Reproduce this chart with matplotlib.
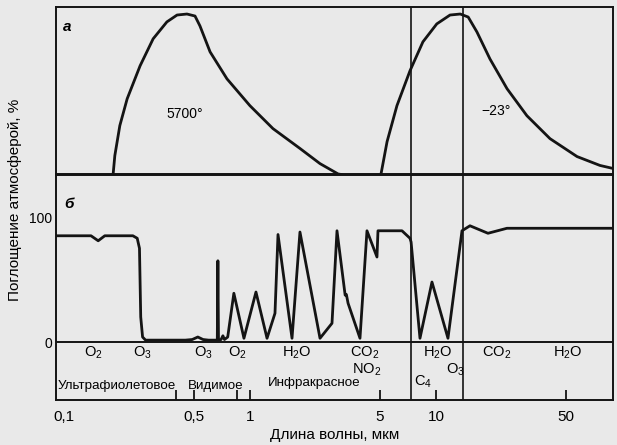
import matplotlib.pyplot as plt

plt.rcParams['font.family'] = ['Liberation Sans', 'DejaVu Sans']
plt.rcParams['mathtext.fontset'] = 'custom'
plt.rcParams['mathtext.rm'] = 'Liberation Sans'
plt.rcParams['mathtext.it'] = 'Liberation Sans:italic'

## a: emission curves (relative, %), wavelength in mkm
sun_wl = [0.184, 0.188, 0.200, 0.219, 0.257, 0.302, 0.358, 0.406, 0.459, 0.507,
          0.539, 0.611, 0.753, 1.00, 1.33, 1.86, 2.38, 2.98, 3.1]
sun_val = [0, 11.3, 29.2, 45.2, 64.9, 81.0, 91.1, 95.2, 95.8, 94.6,
           88.7, 73.2, 57.1, 41.1, 27.4, 15.5, 6.5, 0.3, 0]

earth_wl = [5.06, 5.46, 6.17, 7.25, 8.51, 10.1, 11.9, 13.5, 14.9, 16.6,
            19.5, 24.1, 30.8, 41.0, 57.3, 76.1, 89.4]
earth_val = [0, 19.6, 41.1, 61.9, 79.2, 89.9, 95.2, 95.8, 94.0, 85.1,
             69.0, 51.2, 35.1, 21.4, 10.7, 5.4, 3.6]

## б: atmospheric absorption, %
absorb_wl = [0.0908, 0.14, 0.153, 0.166, 0.235, 0.248, 0.255, 0.259, 0.265, 0.275,
             0.45, 0.49, 0.525, 0.56, 0.60, 0.668, 0.673, 0.678, 0.70, 0.716,
             0.73, 0.76, 0.82, 0.929, 1.078, 1.236, 1.364, 1.416, 1.684, 1.858,
             2.381, 2.762, 2.938, 3.25, 3.30, 3.37, 3.905, 4.258, 4.819, 4.879,
             6.566, 7.25, 7.35, 8.204, 9.517, 11.6, 13.8, 15.23, 19.03, 24.07, 89.4]
absorb_val = [85, 85, 81, 85, 85, 83, 75, 20, 4, 1.5,
              1.5, 2, 4, 2, 1.5, 1.5, 65, 1.5, 2, 5,
              2, 4, 39, 3, 40, 3, 23, 86, 3, 88,
              3, 15, 89, 37.5, 38, 31, 3, 89, 68, 89,
              89, 83, 80, 3, 48, 3, 89, 93, 87, 91, 91]

window_wl = [7.3, 13.9]

gas_labels = ['O$_2$', 'O$_3$', 'O$_3$', 'O$_2$', 'H$_2$O', 'CO$_2$', 'NO$_2$',
              'H$_2$O', 'O$_3$', 'C$_4$', 'CO$_2$', 'H$_2$O']
gas_wl = [0.1435, 0.263, 0.56, 0.852, 1.79, 4.15, 4.26, 10.25, 12.65, 8.51, 21.3, 51.2]
gas_row = [0, 0, 0, 0, 0, 0, 1, 0, 1, 2, 0, 0]

tick_wl = [0.4, 0.5, 0.85, 1, 5, 10, 50]
tick_text = ['', '0,5', '', '1', '5', '10', '50']

bg = '#e9e9e9'
ink = '#141414'

fig = plt.figure(figsize=(6.17, 4.45), dpi=100, facecolor=bg)
ax1 = fig.add_axes([0.0908, 0.6079, 0.9027, 0.3764])
ax2 = fig.add_axes([0.0908, 0.1011, 0.9027, 0.5067])

for ax in (ax1, ax2):
    ax.set_xscale('log')
    ax.set_xlim(0.0908, 89.4)
    ax.set_facecolor(bg)
    for s in ax.spines.values():
        s.set_linewidth(1.4)
        s.set_color(ink)
    for w in window_wl:
        ax.axvline(w, color=ink, lw=1.2)

# top panel
ax1.plot(sun_wl, sun_val, color=ink, lw=2.0, solid_joinstyle='round')
ax1.plot(earth_wl, earth_val, color=ink, lw=2.0, solid_joinstyle='round')
ax1.set_ylim(0, 100)
ax1.set_xticks([])
ax1.set_xticks([], minor=True)
ax1.set_yticks([])
ax1.text(0.448, 36.3, '5700°', fontsize=10, ha='center', va='center')
ax1.text(21.0, 38, '−23°', fontsize=10, ha='center', va='center')
ax1.text(0.0126, 0.88, 'а', transform=ax1.transAxes, fontsize=11,
         fontweight='bold', style='italic', va='center')

# bottom panel
ax2.plot(absorb_wl, absorb_val, color=ink, lw=2.0, solid_joinstyle='round')
ax2.axhline(0, color=ink, lw=1.4)
ax2.set_ylim(-46.4, 134)
ax2.set_yticks([0, 100], ['0', '100'])
ax2.tick_params(axis='y', length=0, pad=3, labelsize=10)
ax2.set_xticks(tick_wl, tick_text)
ax2.set_xticks([0.1], ['0,1'], minor=True)
ax2.tick_params(axis='x', which='major', direction='in', length=7, width=1.2,
                pad=7, labelsize=11)
ax2.tick_params(axis='x', which='minor', length=0, pad=7, labelsize=11)
ax2.set_xlabel('Длина волны, мкм', fontsize=11, labelpad=3)
ax2.text(0.0144, 0.87, 'б', transform=ax2.transAxes, fontsize=11,
         fontweight='bold', style='italic', va='center')

row_y = [-8.5, -22.0, -32.0]
for lab, w, r in zip(gas_labels, gas_wl, gas_row):
    ax2.text(w, row_y[r], lab, fontsize=10.5, ha='center', va='center')

ax2.text(0.0931, -34.8, 'Ультрафиолетовое', fontsize=9.6, ha='left', va='center')
ax2.text(0.465, -34.8, 'Видимое', fontsize=9.6, ha='left', va='center')
ax2.text(2.21, -32.5, 'Инфракрасное', fontsize=9.6, ha='center', va='center')

fig.text(15 / 617, 1 - 200 / 445, 'Поглощение атмосферой, %', rotation=90,
         fontsize=11, ha='center', va='center')

plt.savefig('out.png', dpi=100, facecolor=bg)
